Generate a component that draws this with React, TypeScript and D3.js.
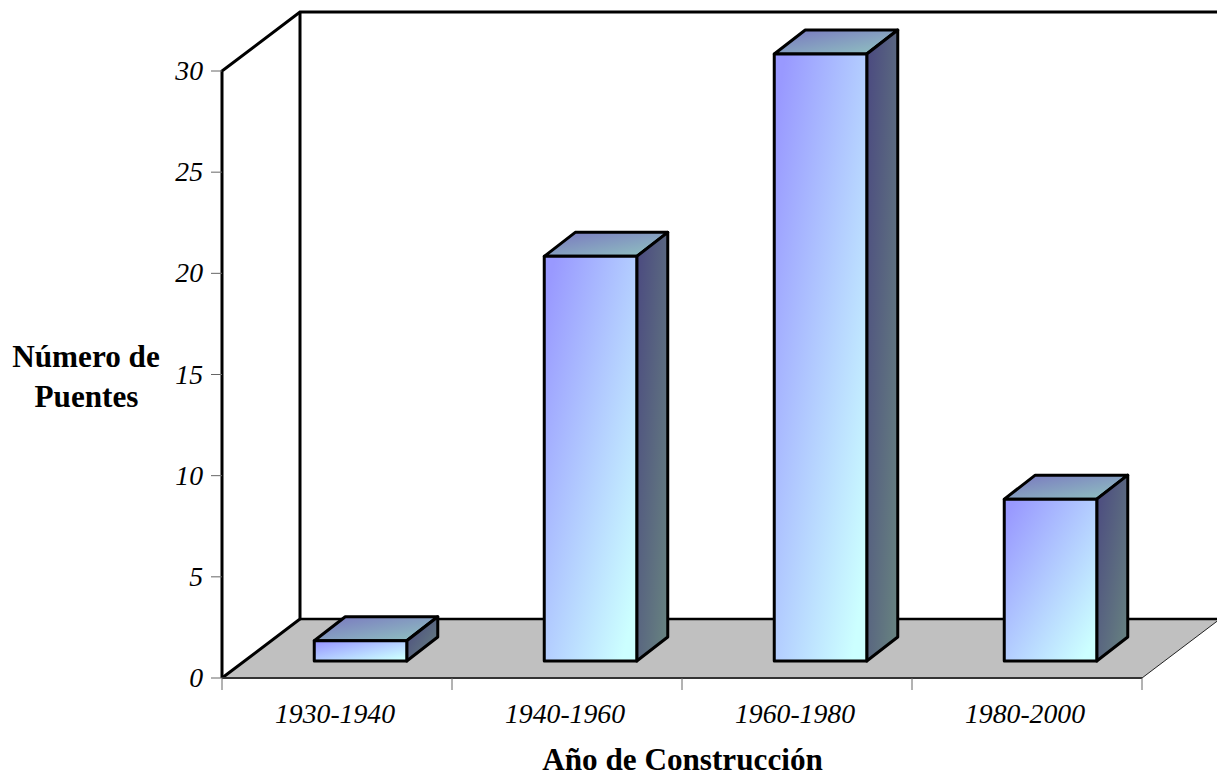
import React from "react";
import * as d3 from "d3";

const categories = ["1930-1940", "1940-1960", "1960-1980", "1980-2000"];
const values = [1, 20, 30, 8];
const yTicks = [0, 5, 10, 15, 20, 25, 30];

const W = 1217, H = 774;
const x = d3.scaleBand<string>().domain(categories).range([222, 1142]).paddingInner(0).paddingOuter(0);
const y = d3.scaleLinear().domain([0, 30]).range([678, 71]);
const DX = 78, DY = -59;
const barDX = 31, barDY = -24;
const offX = 23.5, offY = -17;
const barW = 92.5;
const font = "'Liberation Serif', serif";

const pts = (p: number[][]) => p.map((d) => d.join(",")).join(" ");

function Grad({ id, from, to }: { id: string; from: string; to: string }) {
  return (
    <linearGradient id={id} x1="0" y1="0" x2="1" y2="1">
      <stop offset="0.06" stopColor={from} />
      <stop offset="0.92" stopColor={to} />
    </linearGradient>
  );
}

export default function App() {
  const x0 = x.range()[0], x1 = x.range()[1];
  const yB = y(0), yT = y(30);
  return (
    <svg width={W} height={H} style={{ position: "absolute", left: 0, top: 0, background: "#fff" }} fontFamily={font}>
      <defs>
        <Grad id="front" from="#9999ff" to="#ccffff" />
        <Grad id="side" from="#4c4c80" to="#668080" />
        <Grad id="top" from="#7a7ac0" to="#8fc0c0" />
      </defs>
      <polygon points={pts([[x0, yB], [x0 + DX, yB + DY], [x1 + DX, yB + DY], [x1, yB]])} fill="#c0c0c0" />
      <path d={`M${x0 + DX},${yB + DY}H${W + 5}`} stroke="#000" strokeWidth={2.5} fill="none" />
      <path d={`M${x1},${yB}L${x1 + DX},${yB + DY}`} stroke="#222" strokeWidth={1} fill="none" />
      <path d={`M${x0},${yB}L${x0},${yT}L${x0 + DX},${yT + DY}L${W + 5},${yT + DY}`} stroke="#000" strokeWidth={3} fill="none" />
      <path d={`M${x0 + DX},${yT + DY}V${yB + DY}L${x0},${yB}`} stroke="#000" strokeWidth={3} fill="none" />
      <path d={`M${x0},${yB}H${x1}`} stroke="#333" strokeWidth={2} fill="none" />
      {yTicks.map((t) => (
        <g key={t}>
          <line x1={x0 - 11} x2={x0} y1={y(t)} y2={y(t)} stroke="#666" />
          <text x={x0 - 19} y={y(t) + 9} textAnchor="end" fontSize={27.7} fontStyle="italic">{t}</text>
        </g>
      ))}
      {[...categories.map((c) => x(c)!), x1].map((p, i) => (
        <line key={i} x1={p} x2={p} y1={yB} y2={yB + 12} stroke="#666" />
      ))}
      {categories.map((c) => (
        <text key={c} x={x(c)! + x.bandwidth() / 2 - 2} y={723} textAnchor="middle" fontSize={27.7} fontStyle="italic">{c}</text>
      ))}
      {categories.map((c, i) => {
        const l = x(c)! + (x.bandwidth() - barW) / 2 + offX;
        const r = l + barW;
        const b = yB + offY;
        const t = y(values[i]) + offY;
        return (
          <g key={c} stroke="#000" strokeWidth={3} strokeLinejoin="round">
            <polygon points={pts([[l, t], [l + barDX, t + barDY], [r + barDX, t + barDY], [r, t]])} fill="url(#top)" />
            <polygon points={pts([[r, t], [r + barDX, t + barDY], [r + barDX, b + barDY], [r, b]])} fill="url(#side)" />
            <rect x={l} y={t} width={barW} height={b - t} fill="url(#front)" />
          </g>
        );
      })}
      <text fontSize={31.2} fontWeight="bold" textAnchor="middle">
        <tspan x={86} y={367}>Número de</tspan>
        <tspan x={86.5} y={407}>Puentes</tspan>
      </text>
      <text x={682.5} y={770} fontSize={31.2} fontWeight="bold" textAnchor="middle">Año de Construcción</text>
    </svg>
  );
}
